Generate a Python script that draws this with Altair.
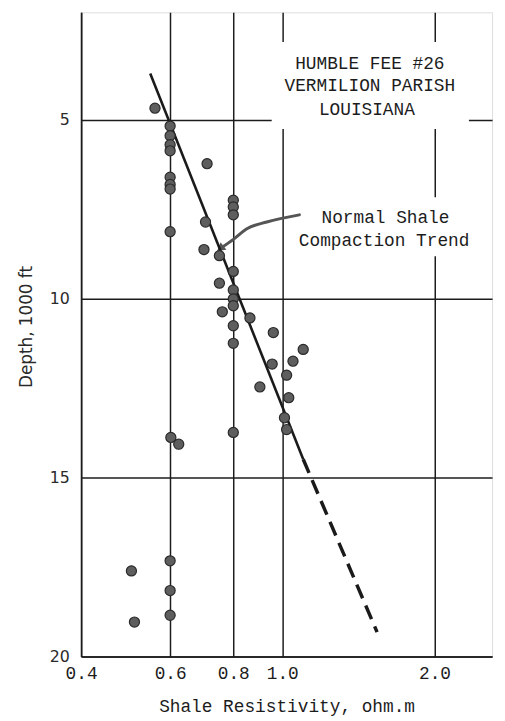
import altair as alt
import pandas as pd

# Data
resistivity = [0.56, 0.60, 0.60, 0.60, 0.60, 0.71, 0.60, 0.60, 0.60, 0.80, 0.80, 0.80,
               0.705, 0.60, 0.70, 0.751, 0.80, 0.751, 0.80, 0.80, 0.80, 0.761, 0.863,
               0.80, 0.96, 0.80, 1.10, 1.05, 0.955, 1.02, 0.903, 1.03, 1.01, 1.02, 0.80,
               0.602, 0.624, 0.503, 0.60, 0.60, 0.60, 0.51]
depth = [4.68, 5.18, 5.45, 5.70, 5.87, 6.23, 6.61, 6.81, 6.94, 7.25, 7.44, 7.66,
         7.86, 8.13, 8.63, 8.80, 9.24, 9.57, 9.76, 10.01, 10.2, 10.37, 10.54,
         10.76, 10.95, 11.25, 11.42, 11.75, 11.83, 12.14, 12.47, 12.77, 13.33, 13.66, 13.74,
         13.88, 14.07, 17.61, 17.33, 18.16, 18.85, 19.04]

trend_solid_x = [0.548, 1.10]
trend_solid_y = [3.71, 14.49]
trend_dash_x = [1.10, 1.54]
trend_dash_y = [14.49, 19.32]

arrow_x = [0.754, 0.803, 0.851, 0.932, 1.081]
arrow_y = [8.60, 8.33, 8.05, 7.86, 7.66]

x_ticks = [0.4, 0.6, 0.8, 1.0, 2.0]
y_ticks = [5, 10, 15, 20]

box_text = ["HUMBLE FEE #26", "VERMILION PARISH", "LOUISIANA"]
box_text_x = [1.49, 1.49, 1.47]
box_text_y = [3.44, 4.07, 4.73]
trend_text = ["Normal Shale", "Compaction Trend"]
trend_text_x = [1.60, 1.59]
trend_text_y = [7.75, 8.38]

# white areas that interrupt the grid behind the labels
clear_x = [0.953, 1.042]
clear_x2 = [2.34, 2.42]
clear_y = [2.83, 7.17]
clear_y2 = [5.26, 8.82]

INK = "#1c1c1c"
MONO = "Liberation Mono"

xs = alt.Scale(type="log", domain=[0.4, 2.6], nice=False)
ys = alt.Scale(domain=[2, 20], reverse=True, nice=False)

pts = pd.DataFrame({"r": resistivity, "d": depth})
solid = pd.DataFrame({"r": trend_solid_x, "d": trend_solid_y})
dash = pd.DataFrame({"r": trend_dash_x, "d": trend_dash_y})
arrow = pd.DataFrame({"r": arrow_x, "d": arrow_y, "o": list(range(len(arrow_x)))})
head = arrow.iloc[[0]]
labels1 = pd.DataFrame({"t": box_text, "r": box_text_x, "d": box_text_y})
labels2 = pd.DataFrame({"t": trend_text, "r": trend_text_x, "d": trend_text_y})
clears = pd.DataFrame({"x": clear_x, "x2": clear_x2, "y": clear_y, "y2": clear_y2})

x_axis = alt.Axis(values=x_ticks, format=".1f", grid=True, gridColor=INK, gridWidth=1.5,
                  gridOpacity=1, ticks=False, labelFlush=False, labelFont=MONO,
                  labelFontSize=18, labelColor=INK, labelPadding=8,
                  domainColor=INK, domainWidth=1.5,
                  title="Shale Resistivity, ohm.m", titleFont=MONO, titleFontSize=18,
                  titleFontWeight="normal", titleColor=INK, titleY=51, titleBaseline="middle")
y_axis = alt.Axis(values=y_ticks, grid=True, gridColor=INK, gridWidth=1.5, gridOpacity=1,
                  ticks=False, labelFont="DejaVu Sans", labelFontSize=16, labelColor="#2a2a2a",
                  labelPadding=12, domainColor=INK, domainWidth=1.5,
                  title="Depth, 1000 ft", titleFont="DejaVu Sans", titleFontSize=17,
                  titleFontWeight="normal", titleColor="#2a2a2a", titleX=-55, titleY=318,
                  titleAngle=270, titleAlign="center", titleBaseline="middle")

clear_layer = alt.Chart(clears).mark_rect(color="white").encode(
    x=alt.X("x:Q", scale=xs, axis=x_axis), x2="x2:Q",
    y=alt.Y("y:Q", scale=ys, axis=y_axis), y2="y2:Q")

arrow_layer = alt.Chart(arrow).mark_line(color="#555555", strokeWidth=3, interpolate="monotone",
                                         strokeCap="round").encode(
    x=alt.X("r:Q", scale=xs), y=alt.Y("d:Q", scale=ys), order="o:Q")
head_layer = alt.Chart(head).mark_point(shape="triangle-up", filled=True, color="#555555",
                                        size=90, angle=232, opacity=1).encode(
    x=alt.X("r:Q", scale=xs), y=alt.Y("d:Q", scale=ys))

solid_layer = alt.Chart(solid).mark_line(color="#1a1a1a", strokeWidth=2.6).encode(
    x=alt.X("r:Q", scale=xs), y=alt.Y("d:Q", scale=ys))
dash_layer = alt.Chart(dash).mark_line(color="#1a1a1a", strokeWidth=3.5,
                                       strokeDash=[15, 8]).encode(
    x=alt.X("r:Q", scale=xs), y=alt.Y("d:Q", scale=ys))

pt_layer = alt.Chart(pts).mark_point(filled=True, shape="circle", size=105, fill="#5e5e5e",
                                     stroke="#2a2a2a", strokeWidth=1.2, opacity=1).encode(
    x=alt.X("r:Q", scale=xs), y=alt.Y("d:Q", scale=ys))

t1 = alt.Chart(labels1).mark_text(font=MONO, fontSize=18, color=INK, align="center",
                                  baseline="middle").encode(
    x=alt.X("r:Q", scale=xs), y=alt.Y("d:Q", scale=ys), text="t:N")
t2 = alt.Chart(labels2).mark_text(font=MONO, fontSize=18, color=INK, align="center",
                                  baseline="middle").encode(
    x=alt.X("r:Q", scale=xs), y=alt.Y("d:Q", scale=ys), text="t:N")

chart = alt.layer(clear_layer, arrow_layer, head_layer, solid_layer, dash_layer, pt_layer,
                  t1, t2).properties(
    width=416, height=652,
    autosize=alt.AutoSizeParams(type="none"),
    padding={"left": 74, "top": 0, "right": 5, "bottom": 60},
).configure_view(stroke=INK, strokeWidth=1.5).configure(background="white")

chart.save("out.html", embed_options={"renderer": "svg", "actions": False})
